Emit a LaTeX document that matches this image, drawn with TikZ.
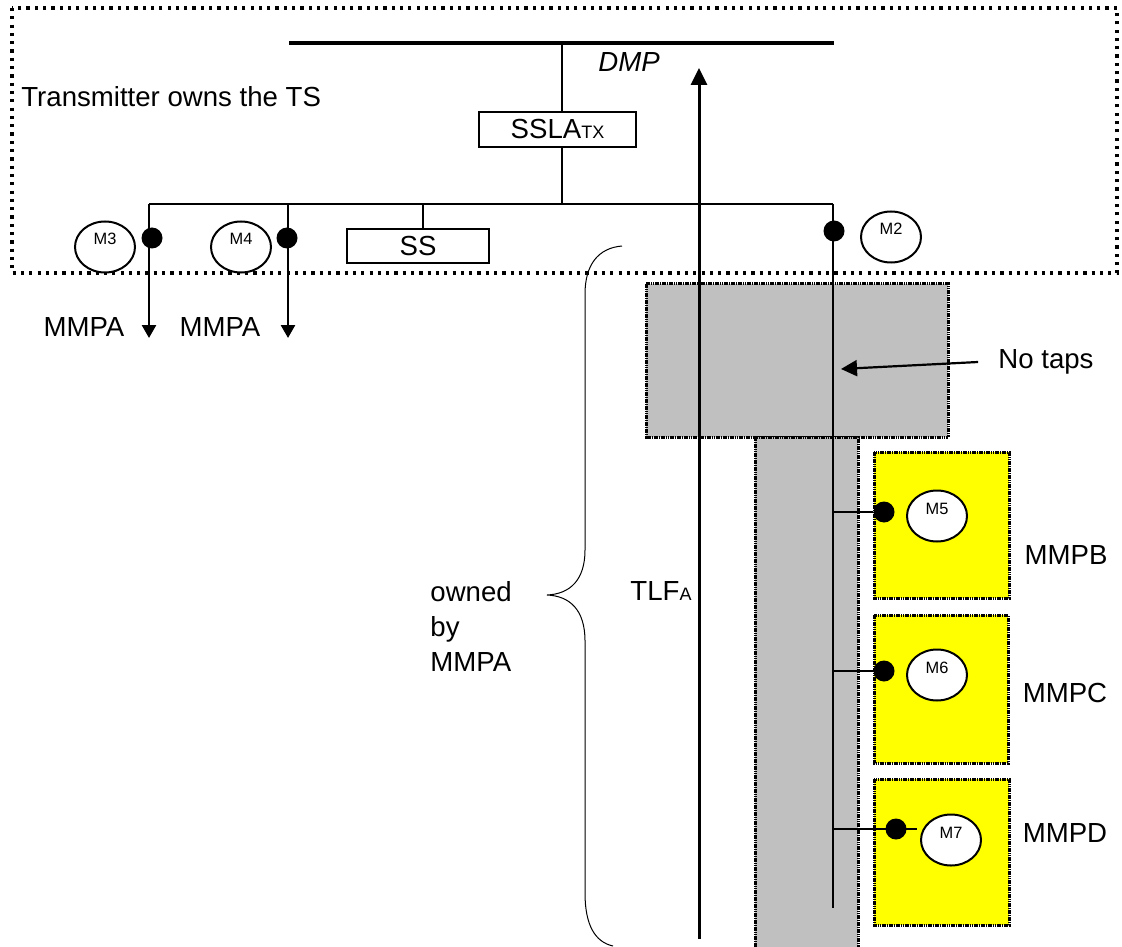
\documentclass[tikz,border=0pt]{standalone}
\usepackage{fontspec}
\setmainfont{Liberation Sans}
\usetikzlibrary{arrows.meta,positioning,calc,shapes.geometric}

\definecolor{areagray}{HTML}{C0C0C0}
\definecolor{mmpyellow}{HTML}{FFFF00}

\tikzset{
  bigtxt/.style={font=\fontsize{13.8}{16}\selectfont},
  ownbox/.style={line width=1.6pt, dash pattern=on 1.6pt off 2.55pt},
  grayarea/.style={fill=areagray, line width=1.5pt, dash pattern=on 0.8pt off 0.35pt},
  mmpbox/.style={fill=mmpyellow, line width=1.5pt, dash pattern=on 0.8pt off 0.35pt},
  labbox/.style={draw, line width=0.8pt, inner sep=0pt, bigtxt},
  meter/.style={draw, ellipse, fill=white, line width=1pt, inner sep=0pt,
    minimum width=30pt, minimum height=25.5pt, text height=5.5pt, text depth=7.5pt,
    font=\fontsize{8.2}{9}\selectfont},
  tap/.style={circle, fill=black, inner sep=0pt, minimum size=10.5pt},
  thinline/.style={line width=0.7pt},
  mmparrow/.style={line width=1.3pt, -{Triangle[length=6.5pt,width=7pt]}},
}

\begin{document}
\begin{tikzpicture}[x=0.5pt, y=-0.5pt]
\useasboundingbox (0,0) rectangle (1122,946);
\clip (0,0) rectangle (1122,946);

% transmitter area
\draw[ownbox] (12,8) rectangle (1117,273);
\node[bigtxt, anchor=west, inner sep=0pt] (owner) at (21,97) {Transmitter owns the TS};

% grey areas and the MMP boxes
\draw[grayarea] (646,284) rectangle (948,437);
\draw[grayarea] (755,437) rectangle (858,960);
\draw[mmpbox] (874,452) rectangle (1009,598);
\draw[mmpbox] (874,615) rectangle (1008,763);
\draw[mmpbox] (874,779) rectangle (1009,925);

% DMP bar
\coordinate (dmpL) at (289,43);
\coordinate (dmpR) at (834,43);
\coordinate (dmptap) at (562,43);
\draw[line width=2pt] (dmpL) -- (dmpR);
\node[bigtxt, font=\fontsize{13.8}{16}\selectfont\itshape] (dmp) at (629,62) {DMP};

% SSLA and bus
\node[labbox, minimum width=78.5pt, minimum height=17.5pt] (sslatx) at (557.5,129.5)
  {SSLA{\fontsize{9}{9}\selectfont TX}};
\coordinate (busL) at (149,204);
\coordinate (busR) at (833,204);
\draw[thinline] (dmptap) -- (dmptap |- sslatx.north);
\draw[thinline] (dmptap |- sslatx.south) -- (dmptap |- busL);
\draw[thinline] (busL) -- (busR);

% SS
\node[labbox, minimum width=71pt, minimum height=17pt] (ss) at (418,246) {SS};
\coordinate (sstap) at (423,204);
\draw[thinline] (sstap) -- (sstap |- ss.north);

% MMPA outputs
\coordinate (busM4) at (288,204);
\coordinate (out3) at (149,338);
\coordinate (out4) at (288,338);
\draw[mmparrow] (busL) -- (out3);
\draw[mmparrow] (busM4) -- (out4);
\node[bigtxt] (mmpa3) at (84,327) {MMPA};
\node[bigtxt] (mmpa4) at (220,327) {MMPA};
\node[tap] (t3) at (152,238) {};
\node[tap] (t4) at (287,238) {};
\node[meter] (m3) at (105,247) {M3};
\node[meter] (m4) at (241,247) {M4};

% line through the TLF
\coordinate (linebot) at (833,908);
\draw[thinline] (busR) -- (linebot);
\node[tap] (t2) at (834,231) {};
\node[meter] (m2) at (891,237) {M2};

% taps on the MMPs
\node[tap] (t5) at (884,512) {};
\node[tap] (t6) at (884,671) {};
\coordinate (m7stub) at (917,829);
\draw[thinline] (t5 -| busR) -- (t5);
\draw[thinline] (t6 -| busR) -- (t6);
\draw[thinline] (m7stub -| busR) -- (m7stub);
\node[tap] (t7) at (896,829) {};
\node[meter] (m5) at (937,516) {M5};
\node[meter] (m6) at (937,675) {M6};
\node[meter] (m7) at (951,840) {M7};
\node[bigtxt] (mmpb) at (1066,555) {MMPB};
\node[bigtxt] (mmpc) at (1065,693) {MMPC};
\node[bigtxt] (mmpd) at (1065,833) {MMPD};

% no taps
\node[bigtxt, inner xsep=10pt, inner ysep=0pt] (notaps) at (1046,362) {No taps};
\coordinate (notapsend) at (841,369);
\draw[line width=1.1pt, -{Triangle[length=8pt,width=8pt]}] (notaps.west) -- (notapsend);

% TLF arrow
\coordinate (tlfbot) at (699,939);
\coordinate (tlftop) at (699,68);
\draw[line width=1.5pt, -{Triangle[length=8.5pt,width=8pt]}] (tlfbot) -- (tlftop);
\node[bigtxt] (tlfa) at (661,591) {TLF{\fontsize{9}{9}\selectfont A}};

% owned by MMPA
\draw[line width=0.5pt] (622,246) .. controls (598,248) and (585,265) .. (585,294)
  -- (585,550) .. controls (585,580) and (570,594) .. (547,595)
  .. controls (570,596) and (585,610) .. (585,641)
  -- (585,893) .. controls (585,925) and (595,942) .. (613,946);
\node[anchor=west, align=left, inner sep=0pt, font=\fontsize{13.8}{17.5}\selectfont] (owned) at (430,626) {owned\\by\\MMPA};
\end{tikzpicture}
\end{document}
